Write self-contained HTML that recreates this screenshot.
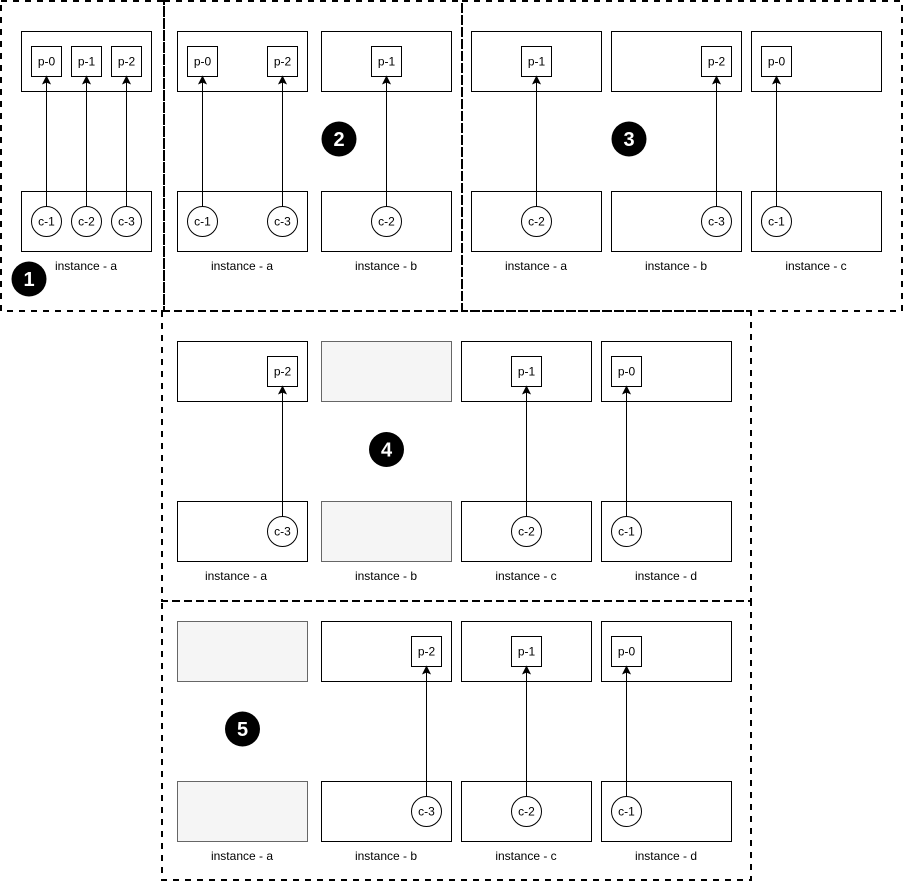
<!DOCTYPE html>
<html><head><meta charset="utf-8"><style>
html,body{margin:0;padding:0;background:#fff;}
svg{display:block;}
text{font-family:"Liberation Sans",Arial,sans-serif;font-size:12px;fill:#000;text-anchor:middle;}
.b{font-size:20px;font-weight:bold;fill:#fff;}
</style></head><body>
<svg width="903" height="883" viewBox="0 0 903 883" xmlns="http://www.w3.org/2000/svg">
<g fill="none" stroke="#000" stroke-width="2" stroke-dasharray="6 6">
<rect x="1" y="1" width="163" height="310"/>
<rect x="164" y="1" width="298" height="310"/>
<rect x="462" y="1" width="440" height="310"/>
<rect x="162" y="311" width="589" height="290"/>
<rect x="162" y="601" width="589" height="279"/>
</g>
<g transform="translate(0.5,0.5)">
<g fill="#fff" stroke="#000" stroke-width="1">
<!-- box 1 -->
<rect x="21" y="31" width="130" height="60"/><rect x="21" y="191" width="130" height="60"/>
<!-- box 2 -->
<rect x="177" y="31" width="130" height="60"/><rect x="177" y="191" width="130" height="60"/>
<rect x="321" y="31" width="130" height="60"/><rect x="321" y="191" width="130" height="60"/>
<!-- box 3 -->
<rect x="471" y="31" width="130" height="60"/><rect x="471" y="191" width="130" height="60"/>
<rect x="611" y="31" width="130" height="60"/><rect x="611" y="191" width="130" height="60"/>
<rect x="751" y="31" width="130" height="60"/><rect x="751" y="191" width="130" height="60"/>
<!-- box 4 -->
<rect x="177" y="341" width="130" height="60"/><rect x="177" y="501" width="130" height="60"/>
<rect x="461" y="341" width="130" height="60"/><rect x="461" y="501" width="130" height="60"/>
<rect x="601" y="341" width="130" height="60"/><rect x="601" y="501" width="130" height="60"/>
<!-- box 5 -->
<rect x="321" y="621" width="130" height="60"/><rect x="321" y="781" width="130" height="60"/>
<rect x="461" y="621" width="130" height="60"/><rect x="461" y="781" width="130" height="60"/>
<rect x="601" y="621" width="130" height="60"/><rect x="601" y="781" width="130" height="60"/>
</g>
<g fill="#f5f5f5" stroke="#666" stroke-width="1">
<rect x="321" y="341" width="130" height="60"/><rect x="321" y="501" width="130" height="60"/>
<rect x="177" y="621" width="130" height="60"/><rect x="177" y="781" width="130" height="60"/>
</g>
<!-- p boxes -->
<g fill="#fff" stroke="#000" stroke-width="1">
<rect x="31" y="46" width="30" height="30"/><rect x="71" y="46" width="30" height="30"/><rect x="111" y="46" width="30" height="30"/>
<rect x="187" y="46" width="30" height="30"/><rect x="267" y="46" width="30" height="30"/><rect x="371" y="46" width="30" height="30"/>
<rect x="521" y="46" width="30" height="30"/><rect x="701" y="46" width="30" height="30"/><rect x="761" y="46" width="30" height="30"/>
<rect x="267" y="356" width="30" height="30"/><rect x="511" y="356" width="30" height="30"/><rect x="611" y="356" width="30" height="30"/>
<rect x="411" y="636" width="30" height="30"/><rect x="511" y="636" width="30" height="30"/><rect x="611" y="636" width="30" height="30"/>
<!-- circles -->
<circle cx="46" cy="221" r="15"/><circle cx="86" cy="221" r="15"/><circle cx="126" cy="221" r="15"/>
<circle cx="202" cy="221" r="15"/><circle cx="282" cy="221" r="15"/><circle cx="386" cy="221" r="15"/>
<circle cx="536" cy="221" r="15"/><circle cx="716" cy="221" r="15"/><circle cx="776" cy="221" r="15"/>
<circle cx="282" cy="531" r="15"/><circle cx="526" cy="531" r="15"/><circle cx="626" cy="531" r="15"/>
<circle cx="426" cy="811" r="15"/><circle cx="526" cy="811" r="15"/><circle cx="626" cy="811" r="15"/>
</g>
<!-- connectors -->
<g stroke="#000" stroke-width="1">
<line x1="46" y1="206" x2="46" y2="81"/><line x1="86" y1="206" x2="86" y2="81"/><line x1="126" y1="206" x2="126" y2="81"/>
<line x1="202" y1="206" x2="202" y2="81"/><line x1="282" y1="206" x2="282" y2="81"/><line x1="386" y1="206" x2="386" y2="81"/>
<line x1="536" y1="206" x2="536" y2="81"/><line x1="716" y1="206" x2="716" y2="81"/><line x1="776" y1="206" x2="776" y2="81"/>
<line x1="282" y1="516" x2="282" y2="391"/><line x1="526" y1="516" x2="526" y2="391"/><line x1="626" y1="516" x2="626" y2="391"/>
<line x1="426" y1="796" x2="426" y2="671"/><line x1="526" y1="796" x2="526" y2="671"/><line x1="626" y1="796" x2="626" y2="671"/>
</g>
<g fill="#000" stroke="#000" stroke-width="1">
<path d="M46 76 L49.5 83 L46 81.5 L42.5 83 Z"/><path d="M86 76 L89.5 83 L86 81.5 L82.5 83 Z"/><path d="M126 76 L129.5 83 L126 81.5 L122.5 83 Z"/>
<path d="M202 76 L205.5 83 L202 81.5 L198.5 83 Z"/><path d="M282 76 L285.5 83 L282 81.5 L278.5 83 Z"/><path d="M386 76 L389.5 83 L386 81.5 L382.5 83 Z"/>
<path d="M536 76 L539.5 83 L536 81.5 L532.5 83 Z"/><path d="M716 76 L719.5 83 L716 81.5 L712.5 83 Z"/><path d="M776 76 L779.5 83 L776 81.5 L772.5 83 Z"/>
<path d="M282 386 L285.5 393 L282 391.5 L278.5 393 Z"/><path d="M526 386 L529.5 393 L526 391.5 L522.5 393 Z"/><path d="M626 386 L629.5 393 L626 391.5 L622.5 393 Z"/>
<path d="M426 666 L429.5 673 L426 671.5 L422.5 673 Z"/><path d="M526 666 L529.5 673 L526 671.5 L522.5 673 Z"/><path d="M626 666 L629.5 673 L626 671.5 L622.5 673 Z"/>
</g>
</g>
<!-- labels in p boxes -->
<text x="46.5" y="65.5">p-0</text><text x="86.5" y="65.5">p-1</text><text x="126.5" y="65.5">p-2</text>
<text x="202.5" y="65.5">p-0</text><text x="282.5" y="65.5">p-2</text><text x="386.5" y="65.5">p-1</text>
<text x="536.5" y="65.5">p-1</text><text x="716.5" y="65.5">p-2</text><text x="776.5" y="65.5">p-0</text>
<text x="282.5" y="375.5">p-2</text><text x="526.5" y="375.5">p-1</text><text x="626.5" y="375.5">p-0</text>
<text x="426.5" y="655.5">p-2</text><text x="526.5" y="655.5">p-1</text><text x="626.5" y="655.5">p-0</text>
<!-- circle labels -->
<text x="46.5" y="225.5">c-1</text><text x="86.5" y="225.5">c-2</text><text x="126.5" y="225.5">c-3</text>
<text x="202.5" y="225.5">c-1</text><text x="282.5" y="225.5">c-3</text><text x="386.5" y="225.5">c-2</text>
<text x="536.5" y="225.5">c-2</text><text x="716.5" y="225.5">c-3</text><text x="776.5" y="225.5">c-1</text>
<text x="282.5" y="535.5">c-3</text><text x="526.5" y="535.5">c-2</text><text x="626.5" y="535.5">c-1</text>
<text x="426.5" y="815.5">c-3</text><text x="526.5" y="815.5">c-2</text><text x="626.5" y="815.5">c-1</text>
<!-- instance labels -->
<text x="86" y="270">instance - a</text>
<text x="242" y="270">instance - a</text><text x="386" y="270">instance - b</text>
<text x="536" y="270">instance - a</text><text x="676" y="270">instance - b</text><text x="816" y="270">instance - c</text>
<text x="236" y="580">instance - a</text><text x="386" y="580">instance - b</text><text x="526" y="580">instance - c</text><text x="666" y="580">instance - d</text>
<text x="242" y="860">instance - a</text><text x="386" y="860">instance - b</text><text x="526" y="860">instance - c</text><text x="666" y="860">instance - d</text>
<!-- badges -->
<circle cx="29" cy="279" r="17.5" fill="#000"/><text class="b" x="29" y="286">1</text>
<circle cx="339" cy="139" r="17.5" fill="#000"/><text class="b" x="339" y="146">2</text>
<circle cx="629" cy="139" r="17.5" fill="#000"/><text class="b" x="629" y="146">3</text>
<circle cx="386.5" cy="449.5" r="17.5" fill="#000"/><text class="b" x="386.5" y="456.5">4</text>
<circle cx="242.5" cy="729" r="17.5" fill="#000"/><text class="b" x="242.5" y="736">5</text>
</svg>
</body></html>
